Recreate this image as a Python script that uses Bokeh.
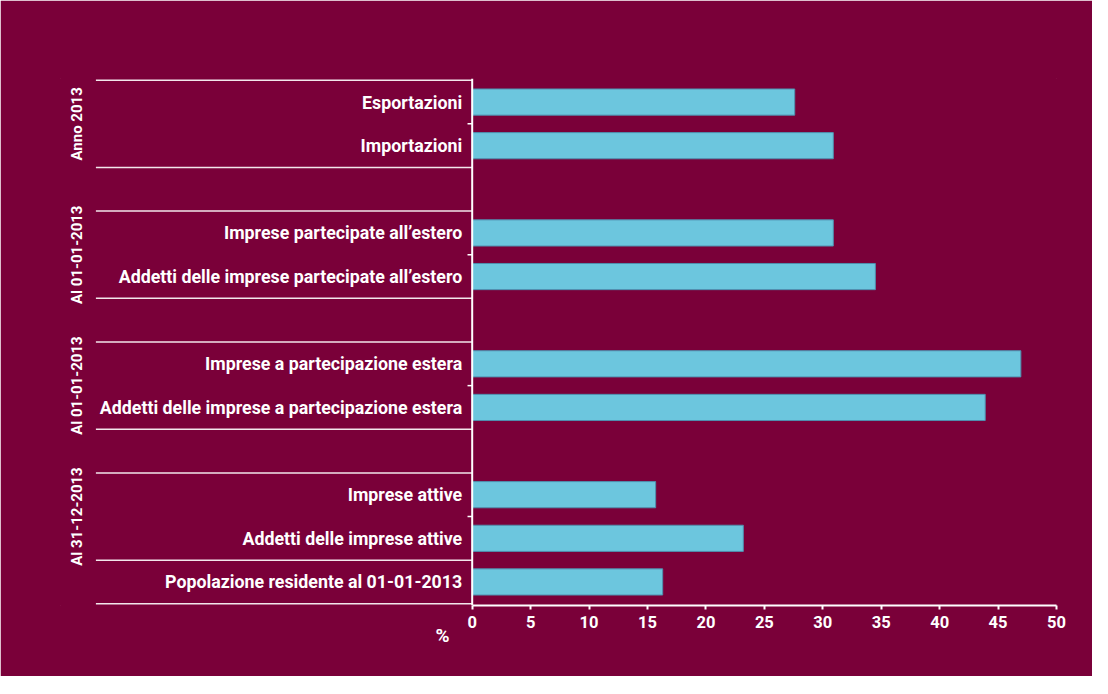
import numpy as np
from bokeh.plotting import figure
from bokeh.models import Range1d, FixedTicker, ColumnDataSource, Span, Title
from bokeh.core.properties import value
from bokeh.embed import file_html
from bokeh.resources import INLINE

# ---------------- data ----------------
categories = [
    "Esportazioni",
    "Importazioni",
    "Imprese partecipate all\u2019estero",
    "Addetti delle imprese partecipate all\u2019estero",
    "Imprese a partecipazione estera",
    "Addetti delle imprese a partecipazione estera",
    "Imprese attive",
    "Addetti delle imprese attive",
    "Popolazione residente al 01-01-2013",
]
values = [27.6, 30.9, 30.9, 34.5, 46.95, 43.9, 15.7, 23.2, 16.3]
group_labels = ["Anno 2013", "Al 01-01-2013", "Al 01-01-2013", "Al 31-12-2013", ""]
group_sizes = [2, 2, 2, 2, 1]
group_gap_after = [1, 1, 1, 0, 0]
x_ticks = [0, 5, 10, 15, 20, 25, 30, 35, 40, 45, 50]
unit_label = "%"

# ---------------- style ----------------
BG = "#7A0039"
BAR = "#6CC6DE"
BAR_EDGE = "#4F8FAE"
FONT = value("Roboto")
X_LEFT = -35.23       # data x of the left edge of frame (label area)
SEP_X0 = -32.2        # start of group separator lines
GROUP_LABEL_X = -33.8 # rotated group labels

# ---------------- positions ----------------
ys = []
spans = []
slot = 0
for n, gap in zip(group_sizes, group_gap_after):
    start = slot
    for _ in range(n):
        ys.append(slot + 0.5)
        slot += 1
    spans.append((start, slot))
    slot += gap
n_slots = slot

sep_y = sorted(set([s for s, e in spans] + [e for s, e in spans]))
tick_y = []
for s, e in spans:
    for k in range(s + 1, e):
        tick_y.append(k)
group_centers = [(s + e) / 2 for s, e in spans]

pad = 0.04
p = figure(
    width=1092, height=676,
    x_range=Range1d(X_LEFT, x_ticks[-1]),
    y_range=Range1d(n_slots + pad, -pad),
    output_backend="svg", toolbar_location=None,
    y_axis_location=None,
    min_border_left=60, min_border_right=36,
    min_border_top=78, min_border_bottom=71,
)
p.background_fill_color = BG
p.border_fill_color = BG
p.outline_line_color = BG
p.outline_line_width = 1
p.grid.visible = False

src = ColumnDataSource(dict(y=ys, v=values, cat=categories, zero=[0] * len(ys)))

p.hbar(y="y", left=0, right="v", height=0.6, source=src,
       fill_color=BAR, line_color=BAR_EDGE, line_width=1)

p.text(x="zero", y="y", text="cat", source=src, x_offset=-10,
       text_align="right", text_baseline="middle", text_color="white",
       text_font=FONT, text_font_style="bold", text_font_size="17.8px")

# group separators
p.segment(x0=[SEP_X0] * len(sep_y), x1=[0] * len(sep_y), y0=sep_y, y1=sep_y,
          line_color="white", line_width=1.5, line_alpha=0.9)
# small category ticks
p.segment(x0=[-0.4] * len(tick_y), x1=[0] * len(tick_y), y0=tick_y, y1=tick_y,
          line_color="white", line_width=1.5)

# vertical axis line
p.add_layout(Span(location=0, dimension="height", line_color="white", line_width=2))

# group labels
gl = [(c, t) for c, t in zip(group_centers, group_labels) if t]
p.text(x=[GROUP_LABEL_X] * len(gl), y=[c for c, _ in gl], text=[t for _, t in gl],
       angle=np.pi / 2, text_align="center", text_baseline="middle",
       text_color="white", text_font=FONT, text_font_style="bold",
       text_font_size="15px")

ax = p.xaxis[0]
ax.ticker = FixedTicker(ticks=x_ticks)
ax.bounds = (x_ticks[0], x_ticks[-1])
ax.axis_line_color = "white"
ax.axis_line_width = 2
ax.major_tick_line_color = "white"
ax.major_tick_line_width = 2
ax.major_tick_out = 4
ax.major_tick_in = 0
ax.minor_tick_line_color = None
ax.major_label_text_color = "white"
ax.major_label_text_font = "Roboto"
ax.major_label_text_font_style = "bold"
ax.major_label_text_font_size = "16.5px"
ax.major_label_standoff = 6

# unit label, placed beside the "0" tick label
p.add_layout(Title(text=unit_label, align="left", offset=375, standoff=-32,
                   text_color="white", text_font="Roboto", text_font_style="bold",
                   text_font_size="19px"), "below")

open("out.html", "w").write(file_html(p, INLINE))
